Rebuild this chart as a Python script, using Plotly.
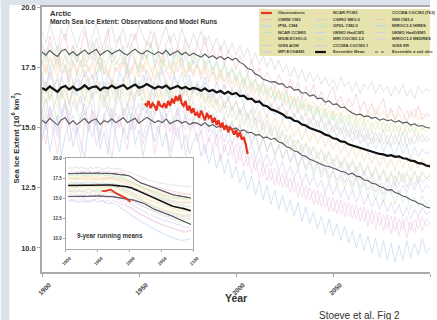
import numpy as np
import plotly.graph_objects as go

# ---------------- data ----------------
years = list(range(1900, 2101, 2))          # model runs, every 2 years
obs_years = list(range(1953, 2007))         # observations, annual

xtick_vals = [1900, 1950, 2000, 2050, 2100]
ytick_vals = [10.0, 12.5, 15.0, 17.5, 20.0]
ytick_text = ["10.0", "12.5", "15.0", "17.5", "20.0"]

observations = [16.0, 15.9, 16.1, 15.8, 16.0, 15.9, 15.7, 16.1, 15.9, 15.85,
                16.0, 15.8, 16.1, 15.9, 16.2, 16.0, 16.3, 16.1, 16.35, 16.0,
                15.9, 16.1, 15.7, 15.9, 15.6, 15.8, 15.5, 15.6, 15.4, 15.7,
                15.5, 15.3, 15.6, 15.4, 15.5, 15.2, 15.4, 15.1, 15.3, 15.0,
                15.2, 14.9, 15.1, 14.8, 15.0, 14.9, 14.7, 14.9, 14.6, 14.8,
                14.5, 14.6, 14.3, 13.9]

ensemble_mean = [16.64, 16.55, 16.70, 16.60, 16.48, 16.66, 16.72, 16.58, 16.69, 16.55,
                 16.62, 16.75, 16.60, 16.68, 16.70, 16.55, 16.66, 16.62, 16.74, 16.63,
                 16.68, 16.76, 16.60, 16.70, 16.78, 16.65, 16.70, 16.80, 16.72, 16.62,
                 16.70, 16.65, 16.74, 16.60, 16.66, 16.72, 16.62, 16.68, 16.58, 16.64,
                 16.60, 16.52, 16.62, 16.50, 16.56, 16.45, 16.52, 16.40, 16.48, 16.38,
                 16.43, 16.30, 16.32, 16.18, 16.20, 16.05, 16.08, 15.92, 15.88, 15.75,
                 15.70, 15.62, 15.55, 15.42, 15.40, 15.28, 15.25, 15.12, 15.08, 14.98,
                 14.92, 14.85, 14.80, 14.70, 14.66, 14.55, 14.52, 14.42, 14.40, 14.30,
                 14.25, 14.20, 14.15, 14.08, 14.05, 13.98, 13.96, 13.90, 13.88, 13.82,
                 13.85, 13.78, 13.80, 13.72, 13.70, 13.62, 13.60, 13.52, 13.50, 13.42,
                 13.38]

ensemble_upper = [18.13, 18.00, 18.20, 18.05, 17.95, 18.18, 18.25, 18.02, 18.15, 17.98,
                  18.10, 18.22, 18.05, 18.15, 18.25, 18.00, 18.12, 18.20, 18.05, 18.15,
                  18.22, 18.08, 18.00, 18.15, 18.25, 18.10, 18.05, 18.20, 18.12, 18.02,
                  18.15, 18.05, 18.20, 18.00, 18.10, 18.18, 18.02, 18.12, 17.98, 18.08,
                  18.00, 17.92, 18.05, 17.90, 17.98, 17.85, 17.95, 17.82, 17.92, 17.80,
                  17.88, 17.70, 17.62, 17.45, 17.40, 17.22, 17.15, 17.00, 16.95, 16.88,
                  16.90, 16.80, 16.82, 16.65, 16.70, 16.55, 16.58, 16.42, 16.45, 16.30,
                  16.35, 16.20, 16.22, 16.05, 16.10, 15.95, 15.98, 15.82, 15.85, 15.70,
                  15.60, 15.52, 15.55, 15.45, 15.48, 15.38, 15.42, 15.30, 15.36, 15.28,
                  15.32, 15.22, 15.28, 15.18, 15.22, 15.10, 15.15, 15.05, 15.08, 15.00,
                  14.98]

ensemble_lower = [15.30, 15.18, 15.38, 15.22, 15.10, 15.32, 15.40, 15.15, 15.28, 15.12,
                  15.25, 15.38, 15.18, 15.30, 15.35, 15.12, 15.28, 15.22, 15.36, 15.20,
                  15.30, 15.40, 15.20, 15.28, 15.38, 15.18, 15.30, 15.42, 15.32, 15.20,
                  15.28, 15.20, 15.35, 15.15, 15.25, 15.30, 15.18, 15.25, 15.12, 15.20,
                  15.18, 15.08, 15.20, 15.05, 15.12, 15.00, 15.08, 14.95, 15.02, 14.92,
                  14.98, 14.85, 14.90, 14.78, 14.80, 14.68, 14.70, 14.58, 14.60, 14.50,
                  14.55, 14.40, 14.35, 14.20, 14.15, 14.02, 13.98, 13.85, 13.80, 13.68,
                  13.62, 13.55, 13.50, 13.40, 13.38, 13.30, 13.25, 13.18, 13.15, 13.05,
                  13.10, 12.98, 12.95, 12.82, 12.80, 12.68, 12.65, 12.55, 12.50, 12.40,
                  12.42, 12.30, 12.25, 12.15, 12.10, 12.00, 11.95, 11.85, 11.80, 11.70,
                  11.66]

cnrm_cm3 = [18.5, 17.9, 18.8, 18.1, 17.6, 18.6, 18.9, 18.0, 18.4, 17.7,
            18.2, 19.0, 18.3, 17.8, 18.7, 18.1, 18.5, 19.1, 17.9, 18.3,
            18.8, 18.0, 17.5, 18.4, 18.9, 18.2, 17.8, 18.6, 18.3, 19.0,
            18.1, 17.7, 18.5, 18.8, 17.9, 18.4, 18.0, 18.7, 18.2, 17.6,
            18.5, 18.1, 18.8, 17.9, 18.3, 17.8, 18.4, 17.6, 18.2, 17.9,
            17.4, 18.0, 17.6, 17.2, 17.8, 17.1, 17.5, 16.9, 17.3, 17.0,
            16.6, 17.2, 16.8, 16.4, 17.0, 16.5, 16.9, 16.2, 16.7, 16.3,
            16.8, 16.1, 16.5, 15.9, 16.4, 16.7, 16.0, 16.3, 15.8, 16.2,
            15.9, 16.4, 15.7, 16.1, 15.6, 16.0, 15.5, 15.9, 16.2, 15.4,
            15.8, 15.3, 15.9, 15.6, 15.2, 15.7, 15.4, 15.9, 15.3, 15.6,
            15.5]
ipsl_cm4 = [17.2, 16.6, 17.5, 16.9, 16.3, 17.1, 17.6, 16.8, 16.4, 17.3,
            16.7, 17.4, 16.9, 16.2, 17.0, 17.7, 16.5, 17.2, 16.8, 16.4,
            17.3, 16.9, 17.6, 16.6, 17.1, 16.3, 16.8, 17.4, 17.0, 16.5,
            16.9, 17.5, 16.7, 16.2, 17.2, 16.8, 17.3, 16.6, 17.0, 16.4,
            16.9, 16.5, 17.1, 16.6, 16.2, 16.9, 16.4, 16.8, 16.1, 16.6,
            16.2, 16.7, 15.9, 16.4, 16.0, 15.6, 16.2, 15.8, 15.4, 16.0,
            15.5, 15.9, 15.3, 15.7, 15.1, 15.6, 15.2, 15.5, 14.9, 15.4,
            15.0, 15.3, 14.8, 15.2, 14.7, 15.1, 14.6, 15.0, 14.5, 14.9,
            14.4, 14.9, 14.3, 14.7, 14.2, 14.6, 14.1, 14.5, 14.0, 14.4,
            14.2, 13.8, 14.4, 13.9, 14.3, 13.7, 14.2, 13.8, 14.1, 13.9,
            14.0]
ncar_ccsm3 = [16.3, 15.4, 16.8, 15.9, 15.2, 16.5, 16.0, 15.5, 16.9, 15.7,
              15.3, 16.2, 16.7, 15.6, 15.1, 16.4, 15.8, 16.6, 15.4, 16.1,
              16.8, 15.5, 16.0, 15.2, 16.3, 16.9, 15.7, 16.1, 15.3, 16.5,
              15.9, 15.4, 16.6, 16.0, 15.1, 15.8, 16.4, 15.5, 16.0, 15.2,
              15.8, 15.3, 15.9, 15.0, 15.6, 15.2, 14.8, 15.5, 14.9, 15.3,
              14.7, 15.2, 14.5, 14.9, 14.3, 14.8, 14.1, 14.6, 14.0, 14.4,
              13.8, 14.3, 13.7, 14.1, 13.5, 13.9, 13.3, 13.8, 13.2, 13.6,
              13.0, 13.5, 12.9, 13.3, 12.7, 13.2, 12.6, 13.0, 12.5, 12.9,
              12.4, 12.9, 12.3, 12.7, 12.1, 12.6, 12.0, 12.5, 11.9, 12.4,
              12.3, 11.8, 12.4, 11.9, 12.2, 11.6, 12.1, 11.7, 12.2, 11.8,
              12.0]
miub_echo = [17.7, 17.2, 17.9, 17.4, 18.1, 17.3, 17.6, 17.0, 17.8, 17.5,
             17.1, 17.9, 17.4, 17.7, 17.2, 18.0, 17.5, 17.1, 17.8, 17.3,
             17.6, 17.9, 17.2, 17.5, 17.0, 17.7, 17.4, 18.0, 17.3, 17.6,
             17.1, 17.8, 17.4, 17.6, 17.2, 17.9, 17.5, 17.0, 17.7, 17.3,
             17.6, 17.2, 17.8, 17.3, 17.5, 17.0, 17.4, 16.9, 17.3, 16.8,
             17.1, 16.7, 17.0, 16.5, 16.9, 16.4, 16.8, 16.3, 16.6, 16.2,
             16.5, 16.1, 16.4, 15.9, 16.3, 15.8, 16.2, 15.7, 16.0, 15.6,
             15.9, 15.5, 15.8, 15.4, 15.7, 15.3, 15.6, 15.2, 15.5, 15.1,
             15.5, 15.1, 15.4, 15.0, 15.3, 14.9, 15.3, 14.9, 15.2, 14.8,
             15.2, 14.8, 15.1, 14.7, 15.1, 14.8, 15.2, 14.7, 15.0, 14.8,
             15.0]
giss_aom = [19.0, 18.5, 19.3, 18.7, 18.2, 19.1, 18.6, 19.4, 18.8, 18.3,
            18.9, 19.2, 18.4, 18.8, 19.3, 18.6, 18.1, 18.9, 19.2, 18.5,
            18.7, 19.1, 18.3, 18.9, 18.6, 19.3, 18.8, 18.4, 19.0, 18.7,
            18.2, 18.8, 19.2, 18.5, 18.9, 18.4, 19.1, 18.6, 18.3, 18.9,
            18.5, 19.0, 18.4, 18.8, 18.3, 18.7, 18.2, 18.6, 18.1, 18.5,
            18.0, 18.4, 17.9, 18.3, 17.7, 18.1, 17.6, 18.0, 17.5, 17.9,
            17.4, 17.8, 17.3, 17.6, 17.1, 17.5, 17.0, 17.4, 16.9, 17.3,
            16.9, 17.2, 16.8, 17.1, 16.7, 17.0, 16.6, 17.1, 16.7, 16.9,
            16.5, 16.9, 16.4, 16.8, 16.6, 16.9, 16.4, 16.8, 16.5, 16.7,
            16.3, 16.7, 16.4, 16.8, 16.3, 16.6, 16.2, 16.7, 16.4, 16.6,
            16.5]
mpi_echam5 = [15.7, 15.0, 15.9, 15.3, 14.8, 15.6, 16.1, 15.2, 15.5, 14.9,
              15.4, 16.0, 15.1, 15.7, 15.3, 14.7, 15.5, 15.9, 15.2, 15.6,
              15.0, 15.8, 15.4, 14.9, 15.6, 16.0, 15.3, 15.7, 15.1, 15.5,
              15.9, 15.2, 15.6, 14.8, 15.4, 15.8, 15.1, 15.5, 14.9, 15.3,
              15.6, 15.0, 15.4, 14.8, 15.2, 14.6, 15.0, 14.4, 14.9, 14.3,
              14.7, 14.1, 14.5, 13.9, 14.3, 13.7, 14.1, 13.5, 13.9, 13.4,
              13.8, 13.2, 13.6, 13.0, 13.4, 12.9, 13.3, 12.7, 13.1, 12.6,
              13.0, 12.5, 12.8, 12.3, 12.7, 12.2, 12.6, 12.1, 12.5, 12.0,
              12.4, 11.9, 12.3, 11.8, 12.2, 11.7, 12.1, 11.6, 12.0, 11.5,
              11.9, 11.4, 11.8, 11.3, 11.7, 11.2, 11.6, 11.3, 11.7, 11.4,
              11.5]
ncar_pcm1 = [16.3, 16.9, 16.1, 16.7, 17.0, 16.2, 16.6, 15.9, 16.8, 16.4,
             16.0, 16.7, 17.1, 16.3, 16.5, 16.9, 16.1, 16.6, 17.0, 16.2,
             16.8, 16.4, 15.9, 16.6, 17.0, 16.3, 16.7, 16.0, 16.5, 16.9,
             16.2, 16.6, 17.0, 16.4, 16.1, 16.8, 16.3, 16.7, 16.0, 16.5,
             16.8, 16.2, 16.6, 16.0, 16.4, 15.9, 16.3, 15.8, 16.2, 15.7,
             16.1, 15.6, 15.9, 15.4, 15.8, 15.3, 15.7, 15.2, 15.5, 15.0,
             15.4, 14.9, 15.3, 14.8, 15.1, 14.6, 15.0, 14.5, 14.9, 14.4,
             14.8, 14.3, 14.7, 14.2, 14.6, 14.1, 14.4, 13.9, 14.3, 13.8,
             14.2, 13.7, 14.1, 13.6, 14.0, 13.5, 13.9, 13.4, 13.8, 13.3,
             13.7, 13.2, 13.8, 13.3, 13.7, 13.2, 13.6, 13.3, 13.7, 13.4,
             13.5]
csiro_mk3 = [15.2, 14.3, 15.6, 14.8, 13.9, 15.1, 15.5, 14.4, 15.0, 14.6,
             13.8, 15.3, 14.9, 15.7, 14.2, 14.8, 15.4, 14.5, 13.7, 15.0,
             15.5, 14.7, 14.1, 15.2, 14.9, 15.6, 14.3, 14.8, 15.3, 13.9,
             14.6, 15.4, 14.8, 14.0, 15.1, 14.5, 15.3, 13.8, 14.7, 15.2,
             14.4, 14.9, 13.9, 14.6, 14.1, 14.7, 13.6, 14.3, 13.8, 14.4,
             13.5, 14.1, 13.4, 13.9, 13.1, 13.7, 12.9, 13.5, 12.8, 13.3,
             12.6, 13.2, 12.5, 13.0, 12.3, 12.9, 12.1, 12.7, 12.0, 12.5,
             11.8, 12.4, 11.7, 12.3, 11.5, 12.1, 11.4, 12.0, 11.3, 11.9,
             11.2, 11.8, 11.1, 11.7, 10.9, 11.6, 10.8, 11.5, 10.7, 11.4,
             10.6, 11.3, 10.5, 11.2, 10.4, 11.1, 10.6, 11.3, 10.7, 11.2,
             11.0]
gfdl_cm20 = [17.6, 18.2, 17.4, 17.9, 18.4, 17.5, 18.0, 17.3, 18.1, 17.7,
             18.3, 17.5, 17.9, 18.5, 17.6, 18.0, 17.2, 17.8, 18.3, 17.6,
             17.9, 18.4, 17.4, 18.1, 17.7, 17.3, 18.2, 17.8, 18.5, 17.5,
             18.0, 17.6, 18.3, 17.4, 17.9, 18.2, 17.5, 18.0, 17.3, 17.8,
             17.5, 18.1, 17.4, 17.8, 17.2, 17.7, 17.1, 17.6, 17.0, 17.4,
             16.9, 17.3, 16.7, 17.2, 16.6, 17.0, 16.4, 16.8, 16.3, 16.7,
             16.1, 16.5, 15.9, 16.4, 15.8, 16.2, 15.6, 16.0, 15.5, 15.9,
             15.3, 15.8, 15.2, 15.6, 15.1, 15.5, 14.9, 15.4, 14.8, 15.2,
             14.7, 15.1, 14.6, 15.0, 14.5, 14.9, 14.4, 14.8, 14.3, 14.7,
             14.2, 14.7, 14.3, 14.8, 14.2, 14.6, 14.3, 14.7, 14.4, 14.6,
             14.5]
ukmo_hadcm3 = [17.0, 16.4, 17.3, 16.7, 16.2, 17.1, 16.6, 17.4, 16.8, 16.3,
               16.9, 17.2, 16.5, 16.8, 17.3, 16.4, 16.9, 16.3, 17.0, 16.7,
               16.2, 16.9, 17.4, 16.6, 17.0, 16.5, 17.2, 16.7, 16.3, 16.9,
               17.3, 16.6, 16.9, 16.4, 17.1, 16.7, 16.2, 16.8, 17.2, 16.5,
               16.8, 16.3, 16.9, 16.2, 16.6, 16.0, 16.5, 15.8, 16.3, 15.7,
               16.1, 15.5, 15.9, 15.3, 15.7, 15.1, 15.5, 14.9, 15.3, 14.7,
               15.1, 14.5, 14.9, 14.3, 14.7, 14.1, 14.5, 13.9, 14.3, 13.8,
               14.2, 13.7, 14.1, 13.6, 14.0, 13.4, 13.8, 13.3, 13.7, 13.2,
               13.6, 13.1, 13.5, 13.0, 13.4, 12.9, 13.3, 12.8, 13.2, 12.7,
               13.1, 12.6, 13.2, 12.7, 13.1, 12.8, 13.2, 12.7, 13.1, 12.9,
               13.0]
mri_cgcm2 = [18.2, 17.7, 18.5, 17.9, 17.4, 18.3, 18.0, 17.6, 18.4, 18.1,
             17.5, 18.2, 17.8, 18.6, 17.9, 17.3, 18.1, 18.4, 17.7, 18.0,
             18.3, 17.6, 18.0, 18.5, 17.8, 17.4, 18.2, 17.9, 18.6, 17.7,
             18.1, 17.5, 17.9, 18.3, 17.6, 18.2, 17.8, 18.4, 17.5, 18.0,
             17.7, 18.2, 17.6, 17.9, 17.4, 17.8, 17.3, 17.7, 17.2, 17.5,
             17.0, 17.4, 16.8, 17.2, 16.7, 17.0, 16.5, 16.9, 16.4, 16.7,
             16.2, 16.6, 16.1, 16.5, 15.9, 16.3, 15.8, 16.2, 15.7, 16.0,
             15.5, 15.9, 15.4, 15.8, 15.3, 15.7, 15.2, 15.6, 15.1, 15.5,
             15.0, 15.4, 14.9, 15.3, 14.8, 15.2, 14.9, 15.3, 14.8, 15.2,
             14.7, 15.1, 14.8, 15.2, 14.7, 15.1, 14.8, 15.2, 14.9, 15.1,
             15.0]
cccma_cgcm3 = [15.6, 16.2, 15.4, 15.9, 16.3, 15.5, 16.0, 15.2, 16.1, 15.7,
               16.3, 15.5, 15.9, 16.4, 15.3, 15.8, 16.2, 15.6, 15.1, 15.9,
               16.2, 15.4, 15.8, 16.5, 15.7, 15.3, 16.0, 15.6, 16.3, 15.5,
               15.9, 16.1, 15.4, 15.8, 16.2, 15.5, 16.0, 15.3, 15.7, 16.1,
               15.5, 15.9, 15.3, 15.7, 15.1, 15.5, 15.0, 15.4, 14.8, 15.2,
               14.7, 15.1, 14.5, 14.9, 14.3, 14.7, 14.1, 14.6, 14.0, 14.4,
               13.9, 14.3, 13.7, 14.1, 13.6, 14.0, 13.4, 13.8, 13.3, 13.7,
               13.2, 13.6, 13.1, 13.5, 12.9, 13.3, 12.8, 13.2, 12.7, 13.1,
               12.6, 13.0, 12.5, 12.9, 12.4, 12.8, 12.3, 12.7, 12.2, 12.6,
               12.3, 12.7, 12.2, 12.6, 12.3, 12.7, 12.4, 12.8, 12.3, 12.6,
               12.5]
cccma_t63 = [16.5, 16.0, 16.8, 16.2, 15.8, 16.6, 16.1, 16.9, 16.3, 15.9,
             16.4, 16.7, 16.0, 16.5, 16.9, 16.1, 16.6, 15.9, 16.3, 16.8,
             16.2, 16.5, 16.9, 16.0, 16.4, 16.7, 16.1, 16.6, 15.8, 16.3,
             16.7, 16.1, 16.5, 16.8, 16.2, 16.0, 16.6, 16.3, 16.9, 16.1,
             16.4, 15.9, 16.3, 15.8, 16.2, 15.6, 16.0, 15.5, 15.9, 15.4,
             15.7, 15.2, 15.6, 15.0, 15.4, 14.9, 15.3, 14.7, 15.1, 14.6,
             15.0, 14.4, 14.8, 14.3, 14.7, 14.1, 14.5, 14.0, 14.4, 13.9,
             14.2, 13.7, 14.1, 13.6, 14.0, 13.5, 13.9, 13.4, 13.8, 13.3,
             13.7, 13.2, 13.6, 13.1, 13.5, 13.0, 13.4, 12.9, 13.3, 12.8,
             13.2, 12.7, 13.1, 12.8, 13.2, 12.7, 13.1, 12.8, 13.2, 12.9,
             13.0]
inm_cm3 = [17.1, 17.6, 17.0, 17.5, 17.9, 17.2, 17.4, 16.9, 17.7, 17.3,
           17.8, 17.1, 17.5, 17.0, 17.6, 17.9, 17.2, 17.4, 16.8, 17.5,
           17.3, 17.7, 17.0, 17.4, 17.8, 17.1, 17.6, 17.2, 16.9, 17.5,
           17.8, 17.2, 17.4, 17.0, 17.7, 17.3, 17.9, 17.1, 17.5, 17.2,
           17.6, 17.0, 17.4, 16.9, 17.3, 16.8, 17.2, 16.6, 17.0, 16.5,
           16.9, 16.4, 16.7, 16.2, 16.6, 16.1, 16.4, 15.9, 16.3, 15.8,
           16.2, 15.7, 16.0, 15.5, 15.9, 15.4, 15.8, 15.3, 15.6, 15.1,
           15.5, 15.0, 15.4, 14.9, 15.3, 14.8, 15.2, 14.7, 15.1, 14.6,
           15.0, 14.5, 14.9, 14.4, 14.8, 14.3, 14.8, 14.4, 14.9, 14.3,
           14.7, 14.3, 14.8, 14.2, 14.7, 14.3, 14.8, 14.4, 14.7, 14.4,
           14.5]
miroc_hires = [14.5, 15.3, 14.0, 14.9, 15.5, 13.8, 14.7, 15.2, 14.2, 15.0,
               14.4, 13.7, 15.1, 14.6, 15.4, 14.1, 14.8, 13.9, 15.3, 14.7,
               14.0, 15.0, 14.5, 15.6, 14.3, 14.9, 13.8, 14.6, 15.2, 14.4,
               15.1, 14.2, 14.8, 13.6, 14.5, 15.0, 14.1, 14.7, 13.9, 14.4,
               14.8, 13.8, 14.3, 13.5, 14.1, 13.3, 13.9, 13.1, 13.7, 12.9,
               13.4, 12.7, 13.2, 12.4, 13.0, 12.2, 12.8, 12.0, 12.6, 11.8,
               12.4, 11.6, 12.2, 11.5, 12.0, 11.3, 11.9, 11.1, 11.7, 11.0,
               11.5, 10.8, 11.3, 10.6, 11.2, 10.5, 11.0, 10.3, 10.9, 10.2,
               10.7, 10.0, 10.6, 9.9, 10.5, 9.8, 10.4, 9.6, 10.3, 9.5,
               10.2, 9.4, 10.1, 9.5, 10.3, 9.6, 10.2, 9.7, 10.4, 9.8,
               10.0]
ukmo_hadgem1 = [16.4, 16.9, 16.2, 16.7, 17.1, 16.3, 16.8, 16.0, 16.6, 17.0,
                16.5, 16.1, 16.8, 17.2, 16.4, 16.7, 16.2, 16.9, 16.5, 16.0,
                16.7, 17.0, 16.3, 16.6, 16.1, 16.9, 16.4, 17.1, 16.6, 16.2,
                16.8, 16.3, 16.7, 16.0, 16.5, 16.9, 16.2, 16.6, 16.1, 16.7,
                16.3, 16.7, 16.0, 16.4, 15.8, 16.2, 15.6, 16.1, 15.4, 15.9,
                15.3, 15.8, 15.1, 15.6, 14.9, 15.4, 14.7, 15.2, 14.6, 15.0,
                14.4, 14.9, 14.2, 14.7, 14.0, 14.5, 13.9, 14.3, 13.7, 14.2,
                13.6, 14.0, 13.4, 13.9, 13.3, 13.7, 13.2, 13.6, 13.0, 13.5,
                12.9, 13.4, 12.8, 13.2, 12.7, 13.1, 12.6, 13.0, 12.5, 12.9,
                12.5, 13.0, 12.6, 13.1, 12.5, 12.9, 12.6, 13.0, 12.7, 12.9,
                12.8]
miroc_medres = [15.5, 14.9, 15.8, 15.1, 14.6, 15.4, 15.9, 15.0, 15.3, 14.7,
                15.2, 15.7, 14.8, 15.4, 15.0, 14.5, 15.6, 15.1, 15.8, 14.9,
                15.3, 14.8, 15.5, 15.9, 15.0, 15.4, 14.6, 15.2, 15.7, 15.1,
                14.8, 15.5, 15.0, 15.3, 14.7, 15.6, 15.2, 14.9, 15.4, 15.0,
                15.2, 14.7, 15.1, 14.4, 14.9, 14.2, 14.7, 14.0, 14.5, 13.8,
                14.3, 13.6, 14.1, 13.4, 13.9, 13.2, 13.7, 13.0, 13.5, 12.8,
                13.3, 12.6, 13.1, 12.5, 12.9, 12.3, 12.7, 12.1, 12.6, 12.0,
                12.4, 11.8, 12.3, 11.7, 12.1, 11.5, 12.0, 11.4, 11.9, 11.3,
                11.8, 11.2, 11.7, 11.1, 11.6, 11.0, 11.5, 10.9, 11.4, 10.8,
                11.3, 10.7, 11.2, 10.8, 11.3, 10.7, 11.2, 10.8, 11.3, 10.9,
                11.0]
giss_er = [17.8, 17.3, 18.0, 17.5, 17.1, 17.9, 17.4, 18.1, 17.6, 17.2,
           17.7, 18.0, 17.3, 17.6, 18.2, 17.4, 17.8, 17.1, 17.7, 18.0,
           17.4, 17.9, 17.5, 17.2, 17.8, 18.1, 17.3, 17.7, 17.5, 17.0,
           17.6, 18.0, 17.4, 17.8, 17.2, 17.7, 17.9, 17.3, 17.6, 17.1,
           17.7, 17.2, 17.6, 17.1, 17.5, 17.0, 17.4, 16.9, 17.3, 16.8,
           17.2, 16.7, 17.1, 16.6, 16.9, 16.5, 16.8, 16.4, 16.7, 16.2,
           16.6, 16.2, 16.5, 16.0, 16.4, 15.9, 16.3, 15.8, 16.2, 15.7,
           16.1, 15.7, 16.0, 15.6, 15.9, 15.5, 15.9, 15.5, 15.8, 15.4,
           15.8, 15.4, 15.7, 15.3, 15.7, 15.3, 15.8, 15.4, 15.7, 15.3,
           15.7, 15.3, 15.6, 15.2, 15.7, 15.4, 15.8, 15.3, 15.6, 15.4,
           15.5]

model_names = ["CNRM CM3", "IPSL CM4", "NCAR CCSM3", "MIUB ECHO-G", "GISS AOM", "MPI ECHAM5",
               "NCAR PCM1", "CSIRO MK3.0", "GFDL CM2.0", "UKMO HadCM3", "MRI CGCM2.3.2", "CCCMA CGCM3.1",
               "CCCMA CGCM3 (T63)", "INM CM3.0", "MIROC3.2 HIRES", "UKMO HadGEM1", "MIROC3.2 MEDRES", "GISS ER"]
model_series = [cnrm_cm3, ipsl_cm4, ncar_ccsm3, miub_echo, giss_aom, mpi_echam5,
                ncar_pcm1, csiro_mk3, gfdl_cm20, ukmo_hadcm3, mri_cgcm2, cccma_cgcm3,
                cccma_t63, inm_cm3, miroc_hires, ukmo_hadgem1, miroc_medres, giss_er]
model_colors = ["#f2b6c6", "#b7d1ea", "#c0e2bd", "#ede19c", "#cdcdcd", "#d3c3e5",
                "#f5cfa4", "#f3bfd6", "#b4e0dd", "#c6d2e6", "#c8e4b4", "#d9c5e9",
                "#eee8aa", "#f5c3bd", "#b2caee", "#d3d3d3", "#e0ccec", "#f7d9b4"]

# ---------------- geometry helpers (pixels -> paper) ----------------
W_FIG, H_FIG = 437, 320
L, R, T, B = 42, 0, 7, 48
PW = W_FIG - L - R
PH = H_FIG - T - B


def px(x):
    return (x - L) / PW


def py(y):
    return (H_FIG - B - y) / PH


OBS_COLOR = "#e8321e"
STD_COLOR = "#55585a"
MEAN_COLOR = "#111111"

fig = go.Figure()

# ---------------- main panel ----------------
for name, vals, col in zip(model_names, model_series, model_colors):
    fig.add_trace(go.Scatter(x=years, y=vals, mode="lines", name=name, opacity=0.75,
                             line=dict(color=col, width=0.7), xaxis="x", yaxis="y"))
fig.add_trace(go.Scatter(x=years, y=ensemble_upper, mode="lines", name="Ensemble +std",
                         line=dict(color=STD_COLOR, width=1.1), xaxis="x", yaxis="y"))
fig.add_trace(go.Scatter(x=years, y=ensemble_lower, mode="lines", name="Ensemble -std",
                         line=dict(color=STD_COLOR, width=1.1), xaxis="x", yaxis="y"))
fig.add_trace(go.Scatter(x=years, y=ensemble_mean, mode="lines", name="Ensemble Mean",
                         line=dict(color=MEAN_COLOR, width=2.2), xaxis="x", yaxis="y"))
fig.add_trace(go.Scatter(x=obs_years, y=observations, mode="lines", name="Observations",
                         line=dict(color=OBS_COLOR, width=2.2), xaxis="x", yaxis="y"))

# ---------------- inset: 9-year running means ----------------
def running(vals, w):
    return np.convolve(np.asarray(vals, dtype=float), np.ones(w) / w, mode="valid")


yr_rm = years[2:-2]
obs_rm_years = obs_years[4:-4]
fig.add_trace(go.Scatter(x=yr_rm, y=running(ensemble_upper, 5), mode="lines",
                         line=dict(color=STD_COLOR, width=1), xaxis="x2", yaxis="y2"))
fig.add_trace(go.Scatter(x=yr_rm, y=running(ensemble_lower, 5), mode="lines",
                         line=dict(color=STD_COLOR, width=1), fill="tonexty",
                         fillcolor="rgba(253,251,232,0.7)", xaxis="x2", yaxis="y2"))
for vals, col in zip(model_series, model_colors):
    fig.add_trace(go.Scatter(x=yr_rm, y=running(vals, 5), mode="lines", opacity=0.8,
                             line=dict(color=col, width=0.7), xaxis="x2", yaxis="y2"))
fig.add_trace(go.Scatter(x=yr_rm, y=running(ensemble_upper, 5), mode="lines",
                         line=dict(color="#5a5470", width=1), xaxis="x2", yaxis="y2"))
fig.add_trace(go.Scatter(x=yr_rm, y=running(ensemble_lower, 5), mode="lines",
                         line=dict(color="#5a5470", width=1), xaxis="x2", yaxis="y2"))
fig.add_trace(go.Scatter(x=yr_rm, y=running(ensemble_mean, 5), mode="lines",
                         line=dict(color=MEAN_COLOR, width=1.6), xaxis="x2", yaxis="y2"))
fig.add_trace(go.Scatter(x=obs_rm_years, y=running(observations, 9), mode="lines",
                         line=dict(color=OBS_COLOR, width=1.8), xaxis="x2", yaxis="y2"))

FONT = "Liberation Sans, Arial, sans-serif"
AXIS_LINE = "#a9a9a9"

fig.update_layout(
    width=W_FIG, height=H_FIG, autosize=False,
    margin=dict(l=L, r=R, t=T, b=B, pad=0),
    paper_bgcolor="white", plot_bgcolor="white",
    showlegend=False,
    font=dict(family=FONT, color="#333333"),
    xaxis=dict(domain=[0, 1], range=[1900, 2100], tickvals=xtick_vals, tickangle=-45,
               tickfont=dict(size=6.5, weight="bold", color="#444444"),
               ticks="outside", ticklen=3, tickcolor=AXIS_LINE,
               showline=True, linecolor=AXIS_LINE, linewidth=1.5, mirror=True,
               showgrid=False, zeroline=False, ticklabelshift=7, ticklabelstandoff=2),
    yaxis=dict(domain=[0, 1], range=[9.0, 20.0], tickvals=ytick_vals, ticktext=ytick_text,
               tickfont=dict(size=7.5, weight="bold", color="#333333"),
               ticks="outside", ticklen=3, tickcolor=AXIS_LINE,
               showline=True, linecolor=AXIS_LINE, linewidth=1.5,
               showgrid=False, zeroline=False),
    xaxis2=dict(domain=[px(66), px(196)], anchor="y2", range=[1900, 2100],
                tickvals=xtick_vals, tickangle=-45,
                tickfont=dict(size=4.5, weight="bold", color="#444444"),
                ticks="outside", ticklen=2, tickcolor=AXIS_LINE,
                showline=True, linecolor=AXIS_LINE, linewidth=1, mirror=True,
                showgrid=False, zeroline=False, ticklabelshift=4, ticklabelstandoff=2),
    yaxis2=dict(domain=[py(249), py(158)], anchor="x2", range=[8.75, 20.0],
                tickvals=ytick_vals, ticktext=ytick_text,
                tickfont=dict(size=4.5, weight="bold", color="#444444"),
                ticks="outside", ticklen=2, tickcolor=AXIS_LINE,
                showline=True, linecolor=AXIS_LINE, linewidth=1, mirror=True,
                showgrid=False, zeroline=False),
)

shapes = []
annotations = []

# page background strips
shapes.append(dict(type="rect", xref="paper", yref="paper", x0=px(0), x1=px(9), y0=py(320), y1=py(0),
                   fillcolor="#dce3ec", opacity=1, line=dict(width=0), layer="above"))
shapes.append(dict(type="rect", xref="paper", yref="paper", x0=px(0), x1=px(437), y0=py(5), y1=py(0),
                   fillcolor="#dce3ec", opacity=1, line=dict(width=0), layer="above"))

# legend box (opaque)
shapes.append(dict(type="rect", xref="paper", yref="paper", x0=px(263), x1=px(437), y0=py(56), y1=py(9),
                   fillcolor="#e6e3ae", opacity=1, line=dict(width=0), layer="above"))

legend_items = [("Observations", OBS_COLOR, 2.2, "solid")]
legend_items += [(n, c, 1.0, "solid") for n, c in zip(model_names[:6], model_colors[:6])]
legend_items += [(n, c, 1.0, "solid") for n, c in zip(model_names[6:12], model_colors[6:12])]
legend_items += [("Ensemble Mean", MEAN_COLOR, 2.2, "solid")]
legend_items += [(n, c, 1.0, "solid") for n, c in zip(model_names[12:], model_colors[12:])]
legend_items += [("Ensemble \u00b1 std. dev.", STD_COLOR, 1.2, "dot")]

col_line_x = [(265, 276), (320, 331), (381, 392)]
col_text_x = [280, 336, 396]
row_y = [13, 19.5, 26, 32.5, 39, 45.5, 52]
for i, (name, col, w, dash) in enumerate(legend_items):
    c, r = divmod(i, 7)
    x0, x1 = col_line_x[c]
    yy = row_y[r]
    shapes.append(dict(type="line", xref="paper", yref="paper", x0=px(x0), x1=px(x1), y0=py(yy), y1=py(yy),
                       line=dict(color=col, width=w, dash=dash), layer="above"))
    annotations.append(dict(xref="paper", yref="paper", x=px(col_text_x[c]), y=py(yy), text=name,
                            showarrow=False, xanchor="left", yanchor="middle",
                            font=dict(size=4.2, color="#3a3a2a", family=FONT, weight="bold")))

# titles
annotations.append(dict(xref="paper", yref="paper", x=px(48), y=py(14), text="<b>Arctic</b>",
                        showarrow=False, xanchor="left", yanchor="middle",
                        font=dict(size=7.5, color="#333333", family=FONT)))
annotations.append(dict(xref="paper", yref="paper", x=px(48), y=py(22),
                        text="<b>March Sea Ice Extent: Observations and Model Runs</b>",
                        showarrow=False, xanchor="left", yanchor="middle",
                        font=dict(size=6.7, color="#333333", family=FONT)))
annotations.append(dict(xref="paper", yref="paper", x=px(15), y=py(138),
                        text="<b>Sea Ice Extent (10<sup>6</sup> km<sup>2</sup>)</b>",
                        showarrow=False, textangle=-90, xanchor="center", yanchor="middle",
                        font=dict(size=8, color="#333333", family=FONT)))
annotations.append(dict(xref="paper", yref="paper", x=px(240), y=py(298), text="<b>Year</b>",
                        showarrow=False, xanchor="center", yanchor="middle",
                        font=dict(size=10.5, color="#333333", family=FONT)))
annotations.append(dict(xref="paper", yref="paper", x=px(322), y=py(308), text="Stoeve et al. Fig 2",
                        showarrow=False, xanchor="left", yanchor="top",
                        font=dict(size=10, color="#333333", family=FONT)))
annotations.append(dict(xref="paper", yref="paper", x=px(76), y=py(236), text="<b>9-year running means</b>",
                        showarrow=False, xanchor="left", yanchor="middle",
                        font=dict(size=6.3, color="#333333", family=FONT)))

fig.update_layout(shapes=shapes, annotations=annotations)

fig.write_html("out.html", config={"displayModeBar": False},
               post_script="document.body.style.margin='0';")
